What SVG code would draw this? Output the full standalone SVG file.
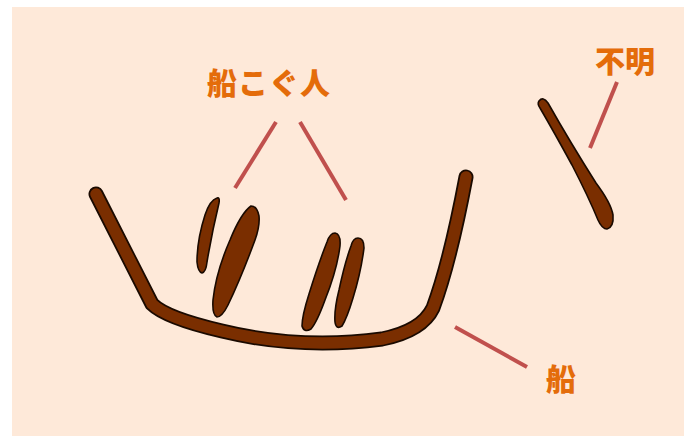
<svg xmlns="http://www.w3.org/2000/svg" width="691" height="436" viewBox="0 0 691 436">
  <style>
    .label { font-family: "Noto Sans CJK JP", "Noto Sans", sans-serif; font-weight: 900; font-size: 30px; fill: #e46c0a; text-anchor: middle; }
    .lead { stroke: #c0504d; stroke-width: 4; fill: none; }
    .hull-edge { fill: none; stroke: #1a0a00; stroke-linecap: round; stroke-linejoin: round; }
    .hull-fill { fill: none; stroke: #7a2e00; stroke-linecap: round; stroke-linejoin: round; }
    .blob { fill: #7a2e00; stroke: #1a0a00; stroke-width: 1.6; stroke-linejoin: round; }
  </style>
  <rect x="0" y="0" width="691" height="436" fill="#ffffff"/>
  <rect x="12" y="7" width="672" height="429" fill="#fee9d9"/>

  <g id="boat">
    <path class="hull-edge" stroke-width="15" d="M96,194 L152,304 Q166,318 222,331 Q300,350 382,339 Q422,331 433,308 Q450,262 466,177"/>
    <path class="hull-fill" stroke-width="11.5" d="M96,194 L152,304 Q166,318 222,331 Q300,350 382,339 Q422,331 433,308 Q450,262 466,177"/>
  </g>

  <g id="rowers">
    <path class="blob" d="M217,198 Q220,197 219,203 Q212,232 207,262 Q206,272 202,273 Q198,272 197,262 Q197,240 205,215 Q210,200 217,198 Z"/>
    <path class="blob" d="M251,206 Q257,206 259,216 Q260,226 255,240 Q241,278 228,305 Q222,317 217,317 Q212,315 213,300 Q216,272 230,240 Q241,213 251,206 Z"/>
    <path class="blob" d="M335,233 Q341,234 340,246 Q337,270 325,300 Q317,322 311,329 Q304,333 302,326 Q302,316 309,294 Q319,262 327,242 Q330,233 335,233 Z"/>
    <path class="blob" d="M358,238 Q364,238 364,248 Q361,272 353,298 Q347,318 342,326 Q336,330 335,322 Q334,310 339,290 Q345,262 351,246 Q353,238 358,238 Z"/>
  </g>

  <g id="unknown">
    <path class="blob" d="M539,101 Q543,96 548,103 Q570,142 596,183 Q611,203 613,215 Q614,227 607,229 Q602,229 598,220 Q589,198 572,165 Q554,132 540,108 Q537,104 539,101 Z"/>
  </g>

  <g id="connectors">
    <line class="lead" x1="276" y1="122" x2="235" y2="188"/>
    <line class="lead" x1="300" y1="122" x2="346" y2="200"/>
    <line class="lead" x1="617" y1="82" x2="590" y2="148"/>
    <line class="lead" x1="455" y1="327" x2="527" y2="367"/>
  </g>

  <g id="label-rowers">
    <text class="label" x="269" y="94" letter-spacing="1">船こぐ人</text>
  </g>
  <g id="label-unknown">
    <text class="label" x="625" y="72">不明</text>
  </g>
  <g id="label-boat">
    <text class="label" x="561" y="390">船</text>
  </g>
</svg>
